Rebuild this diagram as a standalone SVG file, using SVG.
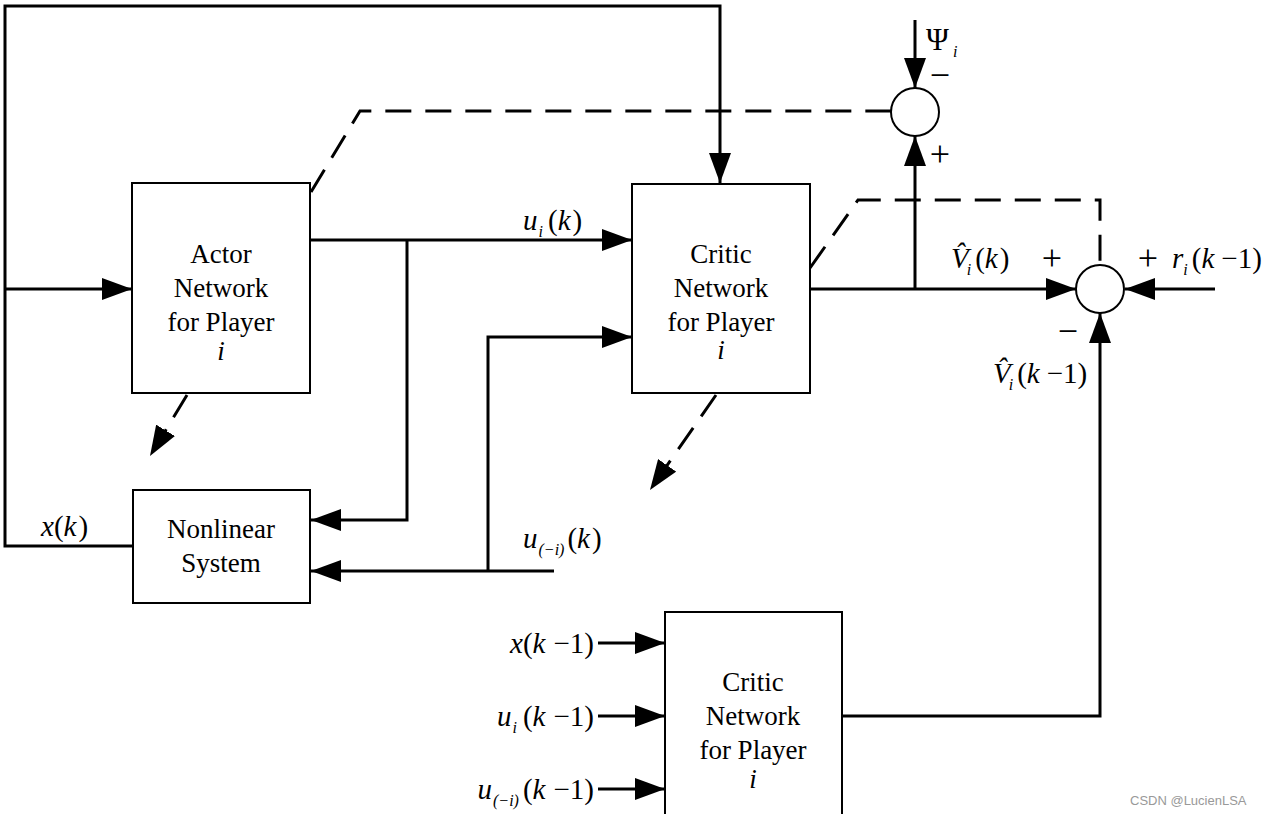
<svg xmlns="http://www.w3.org/2000/svg" width="1270" height="814" viewBox="0 0 1270 814">
<style>
.box{fill:#fff;stroke:#000;stroke-width:2}
.ln{fill:none;stroke:#000;stroke-width:3}
.dash{fill:none;stroke:#000;stroke-width:3;stroke-dasharray:26 14}
.sum{fill:#fff;stroke:#000;stroke-width:2}
.bt{font-family:"Liberation Serif",serif;font-size:27px;text-anchor:middle;fill:#000}
.m{font-family:"Liberation Serif",serif;font-size:29px;fill:#000}
.it{font-style:italic}
.sub{font-size:16px;font-style:italic}
.sg{font-family:"Liberation Serif",serif;font-size:36px;fill:#000;text-anchor:middle}
.wm{font-family:"Liberation Sans",Arial,sans-serif;font-size:13px;fill:#999}
</style>
<defs>
<marker id="ah" markerWidth="30" markerHeight="22" refX="30" refY="11" orient="auto" markerUnits="userSpaceOnUse">
<path d="M0,0 L30,11 L0,22 z" fill="#000"/>
</marker>
</defs>
<rect width="1270" height="814" fill="#fff"/>

<g id="connectors">
<path class="ln" d="M133,546 H5 V6 H720 V183" marker-end="url(#ah)"/>
<path class="ln" d="M5,289 H132" marker-end="url(#ah)"/>
<path class="ln" d="M310,240 H632" marker-end="url(#ah)"/>
<path class="ln" d="M407,240 V520 H311" marker-end="url(#ah)"/>
<path class="ln" d="M554,571 H311" marker-end="url(#ah)"/>
<path class="ln" d="M488,571 V337 H632" marker-end="url(#ah)"/>
<path class="ln" d="M810,289 H1076" marker-end="url(#ah)"/>
<path class="ln" d="M915,289 V136" marker-end="url(#ah)"/>
<path class="ln" d="M915,20 V88" marker-end="url(#ah)"/>
<path class="ln" d="M1215,289 H1125" marker-end="url(#ah)"/>
<path class="ln" d="M842,716 H1100 V313" marker-end="url(#ah)"/>
<path class="ln" d="M598,643 H665" marker-end="url(#ah)"/>
<path class="ln" d="M598,716 H665" marker-end="url(#ah)"/>
<path class="ln" d="M598,789 H665" marker-end="url(#ah)"/>
<path class="dash" d="M311,192 L360,111 H891"/>
<path class="dash" d="M810,268 L858,200 H1100 V265"/>
<path class="dash" d="M187,395 L150,456" marker-end="url(#ah)"/>
<path class="dash" d="M716,395 L650,490" marker-end="url(#ah)"/>
</g>

<g id="sum1"><circle class="sum" cx="915" cy="112" r="24"/></g>
<g id="sum2"><circle class="sum" cx="1100" cy="289" r="24"/></g>

<g id="actor">
<rect class="box" x="132" y="183" width="178" height="210"/>
<text class="bt" x="221" y="263">Actor</text>
<text class="bt" x="221" y="297">Network</text>
<text class="bt" x="221" y="331">for Player</text>
<text class="bt it" x="221" y="360">i</text>
</g>

<g id="critic">
<rect class="box" x="632" y="184" width="178" height="209"/>
<text class="bt" x="721" y="263">Critic</text>
<text class="bt" x="721" y="297">Network</text>
<text class="bt" x="721" y="331">for Player</text>
<text class="bt it" x="721" y="359">i</text>
</g>

<g id="nonlinear">
<rect class="box" x="133" y="490" width="177" height="113"/>
<text class="bt" x="221" y="538">Nonlinear</text>
<text class="bt" x="221" y="572">System</text>
</g>

<g id="critic2">
<rect class="box" x="665" y="612" width="177" height="220"/>
<text class="bt" x="753" y="691">Critic</text>
<text class="bt" x="753" y="725">Network</text>
<text class="bt" x="753" y="759">for Player</text>
<text class="bt it" x="753" y="788">i</text>
</g>

<g id="labels">
<text class="m" x="926" y="50" style="font-size:31px">Ψ<tspan class="sub" dx="4" dy="7">i</tspan></text>
<text class="sg" x="940" y="87">−</text>
<text class="sg" x="940" y="166">+</text>

<text class="m" x="523" y="230"><tspan class="it">u</tspan><tspan class="sub" dx="1" dy="7">i</tspan><tspan dx="5" dy="-7">(</tspan><tspan class="it">k</tspan><tspan dx="2">)</tspan></text>

<text class="m" x="523" y="548"><tspan class="it">u</tspan><tspan class="sub" dx="1" dy="7">(−i)</tspan><tspan dx="3" dy="-7">(</tspan><tspan class="it">k</tspan><tspan dx="2">)</tspan></text>

<text class="m" x="41" y="536"><tspan class="it">x</tspan>(<tspan class="it">k</tspan><tspan dx="2">)</tspan></text>

<text class="m" x="594" y="653" text-anchor="end"><tspan class="it">x</tspan>(<tspan class="it">k</tspan><tspan dx="8">−1)</tspan></text>
<text class="m" x="594" y="726" text-anchor="end"><tspan class="it">u</tspan><tspan class="sub" dx="1" dy="7">i</tspan><tspan dx="6" dy="-7">(</tspan><tspan class="it">k</tspan><tspan dx="8">−1)</tspan></text>
<text class="m" x="594" y="799" text-anchor="end"><tspan class="it">u</tspan><tspan class="sub" dx="1" dy="7">(−i)</tspan><tspan dx="4" dy="-7">(</tspan><tspan class="it">k</tspan><tspan dx="8">−1)</tspan></text>

<text class="m" x="951" y="268"><tspan class="it">V&#x302;</tspan><tspan class="sub" dx="-2" dy="7">i</tspan><tspan dx="4" dy="-7">(</tspan><tspan class="it">k</tspan><tspan dx="2">)</tspan></text>

<text class="sg" x="1052" y="270">+</text>
<text class="sg" x="1148" y="270">+</text>
<text class="sg" x="1068" y="343">−</text>

<text class="m" x="1172" y="268"><tspan class="it">r</tspan><tspan class="sub" dx="0" dy="7">i</tspan><tspan dx="4" dy="-7">(</tspan><tspan class="it">k</tspan><tspan dx="7">−1)</tspan></text>

<text class="m" x="993" y="383"><tspan class="it">V&#x302;</tspan><tspan class="sub" dx="-2" dy="7">i</tspan><tspan dx="4" dy="-7">(</tspan><tspan class="it">k</tspan><tspan dx="7">−1)</tspan></text>
</g>

<text class="wm" x="1130" y="805">CSDN @LucienLSA</text>
</svg>
